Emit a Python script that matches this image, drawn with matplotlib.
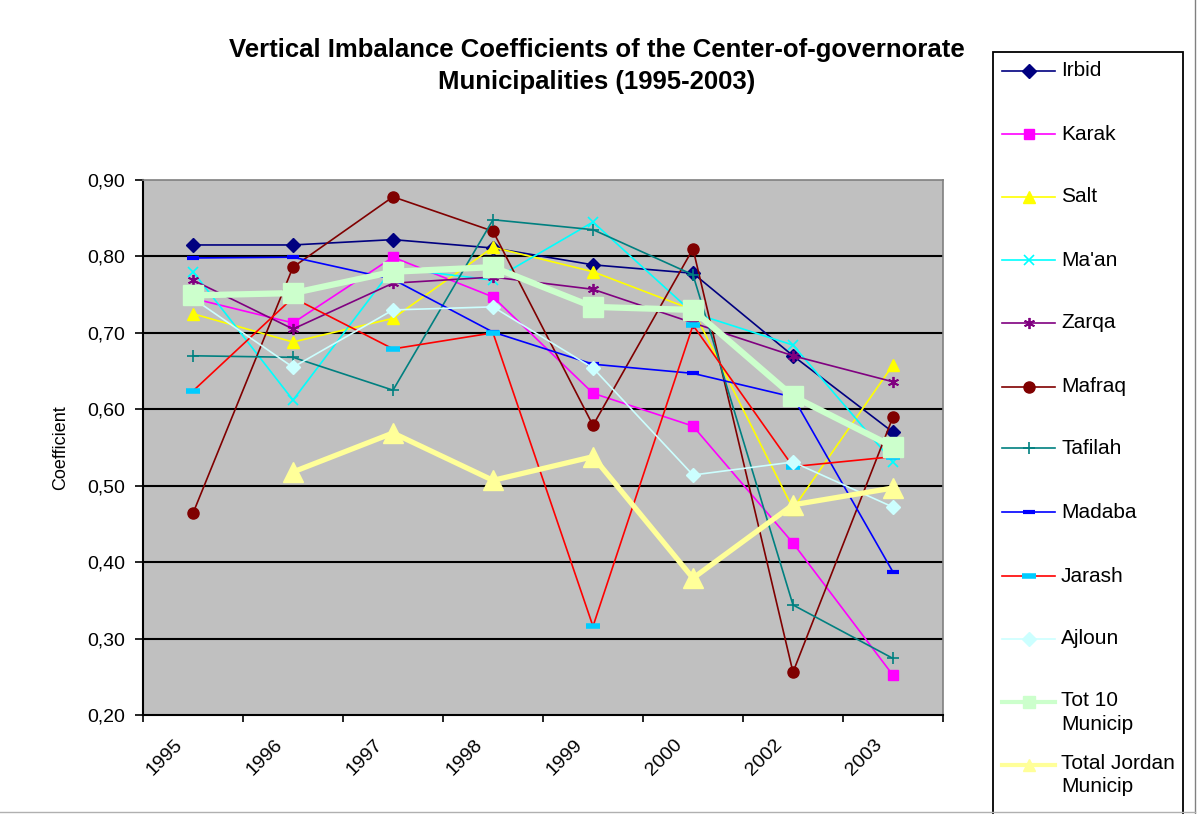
import numpy as np
import matplotlib
matplotlib.use("Agg")
import matplotlib.pyplot as plt
import matplotlib.transforms as mtransforms
from matplotlib.lines import Line2D
from matplotlib.patches import Rectangle

plt.rcParams['font.family'] = ['Liberation Sans', 'DejaVu Sans']

years = ["1995", "1996", "1997", "1998", "1999", "2000", "2002", "2003"]

irbid   = [0.815, 0.815, 0.822, 0.811, 0.789, 0.778, 0.670, 0.570]
karak   = [0.745, 0.713, 0.799, 0.747, 0.621, 0.578, 0.425, 0.252]
salt    = [0.725, 0.688, 0.719, 0.812, 0.780, 0.730, 0.470, 0.658]
maan    = [0.780, 0.612, 0.785, 0.769, 0.845, 0.726, 0.684, 0.531]
zarqa   = [0.769, 0.705, 0.765, 0.773, 0.757, 0.713, 0.670, 0.636]
mafraq  = [0.464, 0.786, 0.878, 0.833, 0.579, 0.810, 0.256, 0.590]
tafilah = [0.670, 0.668, 0.625, 0.848, 0.835, 0.776, 0.344, 0.274]
madaba  = [0.798, 0.799, 0.770, 0.701, 0.659, 0.647, 0.616, 0.387]
jarash  = [0.624, 0.746, 0.679, 0.700, 0.316, 0.710, 0.525, 0.538]
ajloun  = [0.745, 0.655, 0.730, 0.734, 0.654, 0.514, 0.531, 0.472]
tot10   = [0.749, 0.752, 0.780, 0.786, 0.734, 0.730, 0.617, 0.551]
totjor  = [np.nan, 0.518, 0.569, 0.507, 0.538, 0.379, 0.475, 0.497]

series = [
    ("Irbid", irbid, dict(color="#000080", lw=1.2, marker="D", ms=7, mfc="#000080", mec="#000080")),
    ("Karak", karak, dict(color="#FF00FF", lw=1.2, marker="s", ms=7, mfc="#FF00FF", mec="#FF00FF")),
    ("Salt", salt, dict(color="#FFFF00", lw=1.2, marker="^", ms=8, mfc="#FFFF00", mec="#FFFF00")),
    ("Ma'an", maan, dict(color="#00FFFF", lw=1.2, marker="x", ms=7, mew=1.2, mec="#00FFFF")),
    ("Zarqa", zarqa, dict(color="#800080", lw=1.2, marker=(6, 2, 0), ms=8, mew=1.3, mec="#800080")),
    ("Mafraq", mafraq, dict(color="#800000", lw=1.2, marker="o", ms=8, mfc="#800000", mec="#800000")),
    ("Tafilah", tafilah, dict(color="#008080", lw=1.2, marker="+", ms=9, mew=1.2, mec="#008080")),
    ("Madaba", madaba, dict(color="#0000FF", lw=1.2, marker="_", ms=8, mew=3, mec="#0000FF")),
    ("Jarash", jarash, dict(color="#FF0000", lw=1.2, marker="_", ms=10, mew=4, mec="#00CCFF")),
    ("Ajloun", ajloun, dict(color="#CCFFFF", lw=1.2, marker="D", ms=7, mfc="#CCFFFF", mec="#CCFFFF")),
    ("Tot 10\nMunicip", tot10, dict(color="#CCFFCC", lw=4.5, marker="s", ms=14, mfc="#CCFFCC", mec="#CCFFCC")),
    ("Total Jordan\nMunicip", totjor, dict(color="#FFFF99", lw=3.8, marker="^", ms=14, mfc="#FFFF99", mec="#FFFF99")),
]

W, H = 1201, 814
fig = plt.figure(figsize=(W / 100, H / 100), dpi=100)
fig.patch.set_facecolor("white")

L, R, T, B = 143, 943, 180, 715
ax = fig.add_axes([L / W, 1 - B / H, (R - L) / W, (B - T) / H])
ax.set_facecolor("#C0C0C0")

x = np.arange(len(years))
for i, (name, vals, st) in enumerate(series):
    ax.plot(x, vals, zorder=3 + i, clip_on=False, **st)

ax.set_xlim(-0.5, len(years) - 0.5)
ax.set_ylim(0.20, 0.90)
yt = np.round(np.arange(0.20, 0.901, 0.10), 2)
ax.set_yticks(yt)
ax.set_yticklabels([f"{v:.2f}".replace(".", ",") for v in yt], fontsize=14)
for v in yt[1:-1]:
    ax.axhline(v, color="black", lw=1.5, zorder=1)

ax.set_xticks(x)
ax.set_xticklabels(years, rotation=45, ha="right", rotation_mode="anchor", fontsize=14)
ax.tick_params(axis="x", which="major", length=0, pad=15)
shift = mtransforms.ScaledTranslation(-19 / 100, 0, fig.dpi_scale_trans)
for lab in ax.get_xticklabels():
    lab.set_transform(lab.get_transform() + shift)
ax.set_xticks(np.arange(-0.5, len(years)), minor=True)
ax.tick_params(axis="x", which="minor", length=5, width=1.2, color="black", direction="out")
ax.tick_params(axis="y", length=6, width=1.2, direction="out", pad=7)

for s in ["left", "bottom"]:
    ax.spines[s].set_color("black")
    ax.spines[s].set_linewidth(1.5)
for s in ["top", "right"]:
    ax.spines[s].set_color("#808080")
    ax.spines[s].set_linewidth(1.2)

ax.set_ylabel("Coefficient", fontsize=13, labelpad=13)

fig.text(597 / W, 1 - 66 / H,
         "Vertical Imbalance Coefficients of the Center-of-governorate\nMunicipalities (1995-2003)",
         ha="center", va="center", fontsize=18.5, fontweight="bold", linespacing=1.4)

# legend box (manual)
lx0, lx1, ly0 = 993, 1183, 52
fig.patches.append(Rectangle((lx0 / W, -0.01), (lx1 - lx0) / W, 1.01 - ly0 / H,
                             transform=fig.transFigure, fill=False, ec="black", lw=1.3))
leg_y = [71, 134, 197, 260, 323, 387, 448, 512, 576, 639, 702, 765]
for (name, vals, st), yy in zip(series, leg_y):
    st2 = dict(st)
    if st2.get("ms", 0) > 10:
        st2["ms"] = 9
        st2["lw"] = 3
    fy = 1 - yy / H
    line_st = {k: v for k, v in st2.items() if k in ("color", "lw")}
    fig.lines.append(Line2D([1002 / W, 1055 / W], [fy, fy], transform=fig.transFigure, **line_st))
    mk_st = dict(st2)
    mk_st["ls"] = "none"
    fig.lines.append(Line2D([1028.5 / W], [fy], transform=fig.transFigure, **mk_st))
    if "\n" in name:
        fig.text(1061 / W, 1 - (yy - 11) / H, name, ha="left", va="top", fontsize=15, linespacing=1.3)
    else:
        fig.text(1061 / W, fy, name, ha="left", va="center", fontsize=15)

# chart area border (right and bottom)
fig.lines.append(Line2D([1195 / W, 1195 / W], [0, 1], transform=fig.transFigure, color="#808080", lw=1))
fig.lines.append(Line2D([0, 1195 / W], [2 / H, 2 / H], transform=fig.transFigure, color="#B0B0B0", lw=1))

fig.savefig("out.png", dpi=100)
